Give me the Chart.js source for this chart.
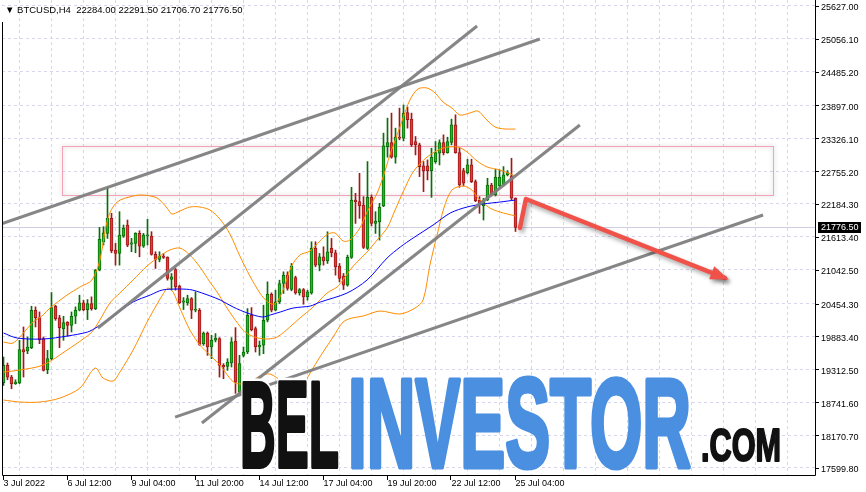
<!DOCTYPE html>
<html><head><meta charset="utf-8">
<script src="https://cdn.jsdelivr.net/npm/chart.js@4.4.0/dist/chart.umd.min.js"></script>
<style>html,body{margin:0;padding:0;background:#fff;overflow:hidden}#wrap{position:relative;width:866px;height:492px}</style>
</head><body><div id="wrap"><canvas id="c" width="866" height="492"></canvas></div>
<script>
// ---- data (BTCUSD H4, bars from 3 Jul 2022 20:00 to 25 Jul 2022 04:00) ----
const opens = [19079,19381,19178,19062,19074,19654,19631,19689,20339,20211,19845,19306,19497,20408,20205,20019,20129,20077,20234,20339,20466,20350,20455,20367,21035,21528,21673,21935,21384,21325,21627,21819,21488,21500,21674,21453,21633,21627,21308,21221,21279,21256,20873,21047,20757,20478,20466,20542,20339,20339,19759,19944,19700,19817,19846,19381,19364,19422,19805,18917,19555,19613,20252,20020,19700,19730,20165,20617,20339,20484,20803,20948,20699,20908,20641,20699,20571,20640,21412,21122,21267,21197,21412,21337,21105,20930,20774,21256,22254,22225,22167,21412,22300,21847,21876,22149,23182,23252,22997,23345,23328,23774,23658,23270,23211,22846,22846,22765,22921,23066,23252,23078,23252,23560,23078,22765,22730,22863,22573,22254,22149,22254,22515,22341,22498,22515,22689,22672,22284];
const highs = [19526,19422,19207,19131,19816,20048,19874,20408,20397,20309,19874,19642,20646,20425,20251,20234,20141,20309,20397,20600,20513,20524,20571,21047,21778,21790,22480,22022,21500,22051,21819,21906,21587,21685,21720,21674,21918,21703,21355,21355,21325,21267,20977,21064,20774,20559,20600,20559,20658,20368,19961,19961,19904,19933,19863,19410,19497,19863,20037,19555,19700,20368,20385,20049,19805,20426,20832,20641,20687,20861,21006,21006,21151,20931,20716,20716,20687,21528,21528,21325,21441,21702,21586,21383,21151,20977,21296,22474,22370,22718,22312,22921,22341,22051,22196,23415,23676,23763,23502,23850,23904,23870,23763,23357,23241,22921,22950,23153,23270,23299,23386,23345,23658,23734,23153,22805,22962,22962,22602,22312,22283,22631,22544,22788,22776,22834,22765,22979,22291.5];
const lows = [19033,19131,18975,19050,19062,19178,19584,19671,20048,19758,19282,19236,19480,20164,19689,19816,19886,19961,20106,20327,20327,20176,20339,20350,21023,21470,21586,21337,21122,21122,21604,21442,21355,21337,21267,21430,21471,21296,21064,21180,21238,20861,20687,20687,20455,20350,20426,20194,20310,19729,19729,19555,19497,19788,19178,19149,19294,19352,18895,18900,19526,19584,19979,19613,19555,19584,20136,20310,20327,20455,20629,20687,20676,20617,20600,20443,20513,20617,21093,21023,21122,21151,21267,20948,20832,20698,20756,21238,21847,21935,21412,21395,21801,21673,21557,22138,22997,22979,22892,23299,23280,23502,23182,23037,22660,22399,22602,22300,22892,22863,23037,23066,23211,23066,22474,22497,22706,22556,22225,22022,21906,22242,22323,22323,22480,22498,22672,22254,21706.7];
const closes = [19381,19178,19062,19091,19654,19613,19700,20339,20211,19828,19294,19497,20385,20193,20037,20124,20077,20234,20339,20466,20350,20455,20367,21035,21569,21685,21935,21372,21325,21645,21761,21471,21511,21674,21453,21645,21648,21308,21221,21279,21256,20890,20919,20745,20466,20501,20542,20339,20350,19747,19944,19700,19817,19857,19381,19352,19439,19788,19091,19410,19613,20252,20002,19700,19730,20165,20617,20339,20484,20803,20948,20716,21105,20641,20699,20571,20658,21412,21122,21267,21197,21354,21337,21093,20890,20774,21256,22254,22225,22149,21430,22300,21847,21888,22126,23194,23252,22997,23345,23328,23763,23647,23211,23215,22834,22760,22765,22997,23078,23252,23078,23270,23560,23078,22515,22544,22863,22573,22242,22184,22254,22515,22341,22648,22648,22689,22730,22284,21776.5];

// time-axis labels (bar index -> text)
const timeLabelIdx = [0,16,32,48,64,80,96,112,128];
const timeLabelText = ['3 Jul 2022','6 Jul 12:00','9 Jul 04:00','11 Jul 20:00','14 Jul 12:00','17 Jul 04:00','19 Jul 20:00','22 Jul 12:00','25 Jul 04:00'];
// price-axis labels
const priceTicks = [25627.00,25056.10,24485.20,23897.00,23326.10,22755.20,22184.30,21613.40,21042.50,20454.30,19883.40,19312.50,18741.60,18170.70,17599.80];

// moving average (blue), read at bar indices
const maIdx = [0,3.4,10,16,21,23.4,26.7,32.4,36.7,39.7,44.2,47.2,51.7,54.2,57.4,61,64.7,66.7,69.2,72.4,76.7,79.2,85.9,90.9,95.9,99.2,102.4,107.4,111.7,115.9,119.9,124.2,128];
const maVal = [19943,19856,19839,19891,19960,20047,20203,20481,20603,20690,20707,20690,20586,20516,20395,20290,20221,20256,20308,20377,20412,20481,20638,20864,21246,21437,21593,21819,22028,22132,22184,22219,22253];
// Bollinger bands (orange), read at bar indices
const bbUpIdx = [0,2.4,5.4,7.4,9.9,11.6,15.9,19.1,22.1,24.1,26.1,28.4,32.4,34.9,38.4,40.9,42.1,44.1,46.6,49.1,51.6,54.1,56.6,59.1,61.6,64.1,66.1,67.9,69.9,71.9,74.1,76.6,79.1,81.1,82.9,84.9,86.6,89.1,90.9,93.4,94.9,96.6,98.4,99.9,101.6,103.6,105.9,107.9,109.9,112.1,114.1,116.6,118.6,120.6,122.9,125.4,128];
const bbUpVal = [19786,19769,19977,20134,20256,20377,20603,20742,20864,21211,21941,22219,22323,22340,22288,22114,22010,22062,22132,22132,22080,21923,21663,21280,20933,20638,20481,20447,20690,21090,21298,21367,21541,21663,21680,21541,21558,21767,22045,22375,22653,23035,23383,23678,23991,24182,24199,24112,23956,23852,23730,23765,23800,23661,23522,23487,23487];
const bbMidIdx = [0,4.1,9.9,15.9,19.9,22.1,24.1,26.6,29.1,32.4,35.9,39.1,41.6,44.1,46.6,49.1,51.6,53.4,55.4,57.4,59.9,61.6,63.6,66.1,68.4,71.6,74.1,77.4,80.9,83.4,84.9,86.6,88.4,90.9,93.4,95.9,97.9,99.9,102.4,105.9,109.9,113.6,115.9,118.4,120.9,124.1,128];
const bbMidVal = [19265,19300,19387,19647,19839,19960,20169,20464,20638,20864,21107,21280,21385,21419,21298,21090,20829,20655,20429,20221,19995,19908,19856,19839,19873,20047,20203,20394,20638,20742,20864,21037,21176,21350,21558,21767,22080,22392,22740,23000,23157,23174,23087,22931,22827,22775,22670];
const bbLowIdx = [0,4.1,9.1,14.1,19.1,22.9,24.9,27.4,29.1,32.4,35.9,38.4,39.9,41.1,42.4,44.1,46.6,49.1,51.6,54.1,57.9,61.6,64.1,66.6,69.9,72.9,74.9,77.4,79.9,82.4,84.9,87.1,89.9,94.1,99.1,102.9,104.9,106.6,108.4,110.1,112.1,114.9,117.1,118.6,121.6,124.1,128];
const bbLowVal = [18779,18744,18744,18813,18987,19335,19161,19109,19265,19647,20134,20447,20620,20725,20655,20377,19995,19734,19560,19387,19074,19092,19196,19231,19092,18987,19057,19335,19613,19873,20134,20203,20238,20325,20273,20377,20516,21124,21645,22114,22427,22497,22427,22288,22114,22045,21975];

// drawn objects: trend lines [startIdx,startPrice,endIdx,endPrice]
const trendA = [-0.9,21831,134.1,25050];
const trendB = [23.6,20030,118.4,25276];
const trendC = [49.6,18379,144.1,23556];
const trendD = [42.9,18483,189.9,21993];
const zoneRect = [14.6,23192,192.4,22340];
const arrowPts = [[129.1,21767],[130.6,22271],[180.4,20898]];
const bidPrice = 21776.5;
const titleText = '\u25BC BTCUSD,H4  22284.00 22291.50 21706.70 21776.50';

// ---- chart ----
const FONT = '"Liberation Sans", Arial, sans-serif';
const up = closes.map((c,i)=>c>=opens[i]);
const wickData = highs.map((h,i)=>({x:i,y:[lows[i],h]}));
const bodyData = opens.map((o,i)=>({x:i,y:[Math.min(o,closes[i]),Math.max(o,closes[i])]}));
const pts = (ix,vals)=>ix.map((x,k)=>({x:x,y:vals[k]}));
const seg = a=>[{x:a[0],y:a[1]},{x:a[2],y:a[3]}];
const lineDS = (data,color,w,order,tension)=>({type:'line',data:data,borderColor:color,borderWidth:w,pointRadius:0,tension:tension||0,order:order,fill:false});
const noPad = s=>{s.paddingTop=0;s.paddingBottom=0;s.paddingLeft=0;s.paddingRight=0;};

const overlay = {
  id:'overlay',
  beforeDatasetsDraw(chart){
    const {ctx,scales:{x,y},chartArea:a} = chart;
    ctx.save();
    const x1=Math.round(x.getPixelForValue(zoneRect[0]))+0.5, x2=Math.round(x.getPixelForValue(zoneRect[2]))+0.5;
    const y1=Math.round(y.getPixelForValue(zoneRect[1]))+0.5, y2=Math.round(y.getPixelForValue(zoneRect[3]))+0.5;
    ctx.shadowColor='rgba(0,0,0,0.28)'; ctx.shadowBlur=5;
    ctx.strokeStyle='#f2a3b8'; ctx.lineWidth=1;
    ctx.strokeRect(x1,y1,x2-x1,y2-y1);
    ctx.shadowColor='transparent';
    const by=Math.round(y.getPixelForValue(bidPrice))+0.5;
    ctx.strokeStyle='#d0d0e4';
    ctx.beginPath(); ctx.moveTo(a.left,by); ctx.lineTo(a.right,by); ctx.stroke();
    ctx.restore();
  },
  afterDatasetsDraw(chart){
    const {ctx,scales:{x,y}} = chart;
    ctx.save();
    const p = arrowPts.map(q=>[x.getPixelForValue(q[0]),y.getPixelForValue(q[1])]);
    ctx.lineCap='round'; ctx.lineJoin='round';
    ctx.shadowColor='rgba(0,0,0,0.35)'; ctx.shadowBlur=4; ctx.shadowOffsetX=2; ctx.shadowOffsetY=3;
    ctx.strokeStyle='#f0524a'; ctx.lineWidth=4.5;
    ctx.beginPath(); ctx.moveTo(p[0][0],p[0][1]); ctx.lineTo(p[1][0],p[1][1]); ctx.lineTo(p[2][0],p[2][1]); ctx.stroke();
    const ang=Math.atan2(p[2][1]-p[1][1],p[2][0]-p[1][0]);
    const L=16,W=0.45;
    ctx.fillStyle='#f0524a';
    ctx.beginPath();
    ctx.moveTo(p[2][0]+4*Math.cos(ang),p[2][1]+4*Math.sin(ang));
    ctx.lineTo(p[2][0]-L*Math.cos(ang-W),p[2][1]-L*Math.sin(ang-W));
    ctx.lineTo(p[2][0]-L*Math.cos(ang+W),p[2][1]-L*Math.sin(ang+W));
    ctx.closePath(); ctx.fill();
    ctx.restore();
  },
  afterDraw(chart){
    const {ctx,scales:{x,y},chartArea:a} = chart;
    ctx.save();
    ctx.strokeStyle='#000'; ctx.lineWidth=1;
    ctx.beginPath();
    ctx.moveTo(a.left+0.5,22); ctx.lineTo(a.left+0.5,a.bottom+0.5); ctx.lineTo(a.right+0.5,a.bottom+0.5); ctx.lineTo(a.right+0.5,0);
    ctx.stroke();
    ctx.beginPath();
    priceTicks.forEach(v=>{const yy=Math.round(y.getPixelForValue(v))+0.5; ctx.moveTo(a.right,yy); ctx.lineTo(a.right+4,yy);});
    timeLabelIdx.forEach(v=>{const xx=Math.round(x.getPixelForValue(v))-0.5; ctx.moveTo(xx,a.bottom); ctx.lineTo(xx,a.bottom+5);});
    ctx.stroke();
    const by=Math.round(y.getPixelForValue(bidPrice));
    ctx.fillStyle='#000'; ctx.fillRect(a.right+3,by-5,43,11);
    ctx.fillStyle='#fff'; ctx.font='9px '+FONT; ctx.textBaseline='middle'; ctx.textAlign='left';
    ctx.fillText(bidPrice.toFixed(2),a.right+6,by+1);
    ctx.fillStyle='#000'; ctx.font='9.5px '+FONT;
    ctx.fillText(titleText,5,10.5);
    const wm=(txt,x0,x1,yb,capH,fill,strokes)=>{
      const size=capH/0.716;
      ctx.font='bold '+size+'px '+FONT;
      const w=ctx.measureText(txt).width;
      ctx.save(); ctx.translate(x0,yb); ctx.scale((x1-x0)/w,1);
      ctx.textBaseline='alphabetic'; ctx.textAlign='left'; ctx.lineJoin='round';
      strokes.forEach(s=>{ctx.strokeStyle=s[0]; ctx.lineWidth=s[1]; ctx.strokeText(txt,0,0);});
      ctx.fillStyle=fill; ctx.fillText(txt,0,0);
      ctx.restore();
    };
    wm('BEL',240,339,467,88,'#111',[['#fff',9],['#111',4]]);
    wm('INVESTOR',348,691,467,90,'#4a8fe0',[['#4a8fe0',5]]);
    wm('.COM',701,781,461,33,'#111',[['#111',2]]);
    ctx.restore();
  }
};

new Chart(document.getElementById('c'),{
  type:'bar',
  data:{datasets:[
    {type:'bar',data:wickData,barThickness:1,grouped:false,order:5,backgroundColor:up.map(u=>u?'#0a6e0a':'#a01818'),borderWidth:0},
    {type:'bar',data:bodyData,barThickness:3,grouped:false,order:4,backgroundColor:up.map(u=>u?'#22b822':'#e23b3b'),borderColor:up.map(u=>u?'#0a6e0a':'#a01818'),borderWidth:1,borderSkipped:false,minBarLength:1},
    lineDS(pts(bbUpIdx,bbUpVal),'#ff8c00',1,3,0.3),
    lineDS(pts(bbMidIdx,bbMidVal),'#ff8c00',1,3,0.3),
    lineDS(pts(bbLowIdx,bbLowVal),'#ff8c00',1,3,0.3),
    lineDS(pts(maIdx,maVal),'#0000ff',1,2,0.3),
    lineDS(seg(trendA),'rgba(128,128,128,0.95)',3,1),
    lineDS(seg(trendB),'rgba(128,128,128,0.95)',3,1),
    lineDS(seg(trendC),'rgba(128,128,128,0.95)',3,1),
    lineDS(seg(trendD),'rgba(128,128,128,0.95)',3,1)
  ]},
  options:{
    responsive:false, animation:false, devicePixelRatio:1,
    layout:{padding:{left:2,right:0,top:0,bottom:0}},
    plugins:{legend:{display:false},tooltip:{enabled:false}},
    scales:{
      x:{type:'linear',min:-0.375,max:202.875,offset:false,
        afterBuildTicks:s=>{s.ticks=[];for(let v=0;v<=200;v+=8)s.ticks.push({value:v});},
        grid:{color:'#d6d6ee',drawTicks:false},
        border:{display:false,dash:[3,3]},
        ticks:{autoSkip:false,maxRotation:0,minRotation:0,align:'start',padding:3,color:'#000',font:{family:FONT,size:9},
          callback:v=>{const k=timeLabelIdx.indexOf(v);return k>=0?timeLabelText[k]:'';}},
        afterFit:s=>{s.height=17;noPad(s);}
      },
      y:{type:'linear',position:'right',min:17476.5,max:25728,
        afterBuildTicks:s=>{s.ticks=priceTicks.map(v=>({value:v}));},
        grid:{color:'#d6d6ee',drawTicks:false},
        border:{display:false,dash:[3,3]},
        ticks:{padding:6,crossAlign:'near',color:'#000',font:{family:FONT,size:9},labelOffset:2,callback:v=>v.toFixed(2)},
        afterFit:s=>{s.width=51;noPad(s);}
      }
    }
  },
  plugins:[overlay]
});
</script></body></html>
